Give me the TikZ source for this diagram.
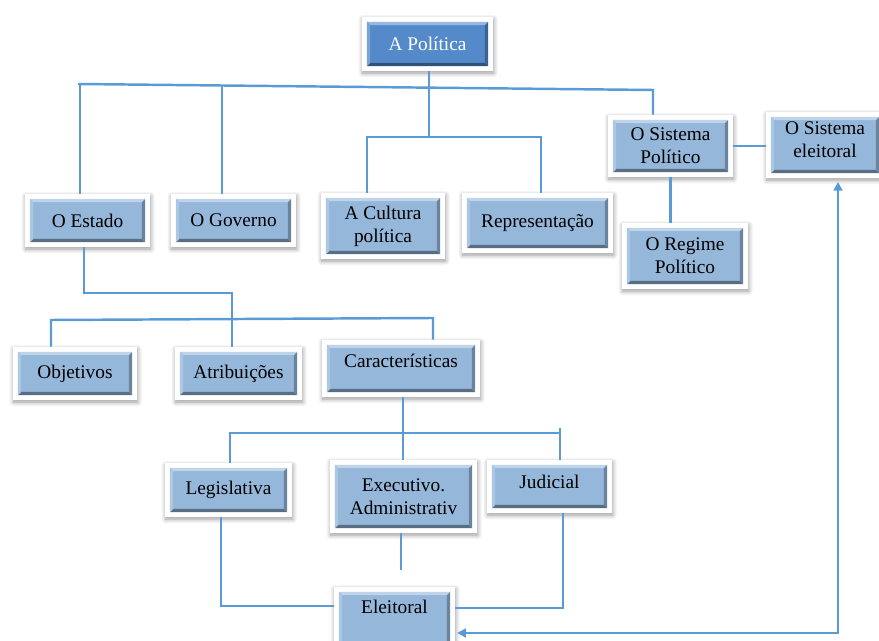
\documentclass[tikz,border=0pt]{standalone}
\usepackage{fontspec}
\setmainfont{Liberation Serif}
\usetikzlibrary{shadows.blur,calc,arrows.meta,positioning}
\definecolor{linha}{RGB}{91,155,213}
\definecolor{azulclaro}{RGB}{149,183,218}
\definecolor{azulforte}{RGB}{84,138,201}

\tikzset{
  fundo/.store in=\corfundo, fundo=azulclaro,
  caixa/.style={rectangle, fill=white, inner sep=1pt, align=center,
    font=\fontsize{11}{13}\selectfont,
    blur shadow={shadow xshift=0.4pt, shadow yshift=-1.2pt, shadow blur radius=2.6pt,
      shadow blur steps=8, shadow opacity=40},
    path picture={
      \path (path picture bounding box.south west) ++(2.8pt,2.8pt) coordinate (bsw);
      \path (path picture bounding box.north east) ++(-2.8pt,-2.8pt) coordinate (bne);
      \coordinate (bse) at (bsw -| bne);
      \coordinate (bnw) at (bne -| bsw);
      \fill[\corfundo] (bsw) rectangle (bne);
      \fill[\corfundo!60!black] (bsw) -- (bse) -- ++(-1.8pt,1.8pt) -- ($(bsw)+(1.8pt,1.8pt)$) -- cycle;
      \fill[\corfundo!72!black] (bse) -- (bne) -- ++(-1.8pt,-1.8pt) -- ($(bse)+(-1.8pt,1.8pt)$) -- cycle;
      \fill[\corfundo!60!white] (bnw) -- (bne) -- ++(-1.8pt,-1.8pt) -- ($(bnw)+(1.8pt,-1.8pt)$) -- cycle;
      \fill[\corfundo!78!white] (bsw) -- (bnw) -- ++(1.8pt,-1.8pt) -- ($(bsw)+(1.8pt,1.8pt)$) -- cycle;
    }},
  liga/.style={draw=linha, line width=1.4pt},
  seta/.style={liga, {Triangle[length=5pt,width=5pt]}-{Triangle[length=5pt,width=5pt]}, shorten <=1pt, shorten >=2pt}
}

\begin{document}
\begin{tikzpicture}[x=0.02cm, y=-0.02cm]
    \useasboundingbox (0,0) rectangle (879,641);

    % Caixas
    \node[caixa, fundo=azulforte, text=white, minimum width=2.62cm, minimum height=1.08cm] (politica) at (427.5,44) {A Política};
    \node[caixa, minimum width=2.5cm, minimum height=1.06cm] (estado) at (87.5,220.5) {O Estado};
    \node[caixa, minimum width=2.5cm, minimum height=1.06cm] (governo) at (233.5,220.5) {O Governo};
    \node[caixa, minimum width=2.48cm, minimum height=1.32cm] (cultura) at (383,226) {A Cultura\\política};
    \node[caixa, minimum width=3.02cm, minimum height=1.2cm] (repres) at (537.5,223) {Representação};
    \node[caixa, minimum width=2.5cm, minimum height=1.24cm] (sispol) at (670.5,146) {O Sistema\\Político};
    \node[caixa, minimum width=2.36cm, minimum height=1.32cm, text depth=0.2cm] (sisel) at (825,145) {O Sistema\\eleitoral};
    \node[caixa, minimum width=2.52cm, minimum height=1.32cm] (regime) at (685,256) {O Regime\\Político};
    \node[caixa, minimum width=2.48cm, minimum height=1.06cm] (objetivos) at (75,373.5) {Objetivos};
    \node[caixa, minimum width=2.54cm, minimum height=1.06cm] (atrib) at (238.5,373.5) {Atribuições};
    \node[caixa, minimum width=3.16cm, minimum height=1.14cm, text depth=0.3cm] (caract) at (401,368.5) {Características};
    \node[caixa, minimum width=2.54cm, minimum height=1.08cm] (legis) at (228.5,490) {Legislativa};
    \node[caixa, minimum width=2.94cm, minimum height=1.46cm] (exec) at (403.5,496.5) {Executivo.\\Administrativ};
    \node[caixa, minimum width=2.5cm, minimum height=1.06cm, text depth=0.2cm] (judicial) at (549.5,486.5) {Judicial};
    \node[caixa, minimum width=2.42cm, minimum height=1.26cm, text depth=0.45cm] (eleitoral) at (394.5,618.5) {Eleitoral};

    % Ligacoes do topo
    \coordinate (tE) at (78,84);
    \coordinate (tD) at (653,90);
    \coordinate (tEst) at (80,84);
    \coordinate (tGov) at (222,86);
    \coordinate (tronco) at (429,137);
    \coordinate (cA) at (367,137);
    \coordinate (cB) at (541,137);
    \draw[liga] (tE) -- (tD) -- (tD |- sispol.north);
    \draw[liga] (tEst) -- (tEst |- estado.north);
    \draw[liga] (tGov) -- (tGov |- governo.north);
    \draw[liga] (politica.south -| tronco) -- (tronco);
    \draw[liga] (cA |- cultura.north) -- (cA) -- (cB) -- (cB |- repres.north);
    \draw[liga] (sispol.east) -- (sispol.east -| sisel.west);
    \draw[liga] (sispol.south) -- (sispol.south |- regime.north);

    % O Estado
    \coordinate (e1) at (84,293);
    \coordinate (e2) at (232,293);
    \coordinate (o1) at (51,320);
    \coordinate (o2) at (433,318);
    \draw[liga] (e1 |- estado.south) -- (e1) -- (e2) -- (e2 |- atrib.north);
    \draw[liga] (o1 |- objetivos.north) -- (o1) -- (o2) -- (o2 |- caract.north);

    % Caracteristicas
    \coordinate (k) at (403,433);
    \coordinate (k1) at (230,433);
    \coordinate (k2) at (560,433);
    \draw[liga] (caract.south -| k) -- (k |- exec.north);
    \draw[liga] (k1 |- legis.north) -- (k1) -- (k2) -- (k2 |- judicial.north);
    \draw[liga] (k2) -- ++(0,-5);

    % Poderes e Eleitoral
    \coordinate (l) at (221,606);
    \coordinate (toco) at (401,570);
    \coordinate (j) at (563,608);
    \coordinate (canto) at (838,633);
    \draw[liga] (legis.south -| l) -- (l) -- (l -| eleitoral.west);
    \draw[liga] (exec.south -| toco) -- (toco);
    \draw[liga] (judicial.south -| j) -- (j) -- (j -| eleitoral.east);
    \draw[seta] (eleitoral.east |- canto) -- (canto) -- (canto |- sisel.south);

\end{tikzpicture}
\end{document}
